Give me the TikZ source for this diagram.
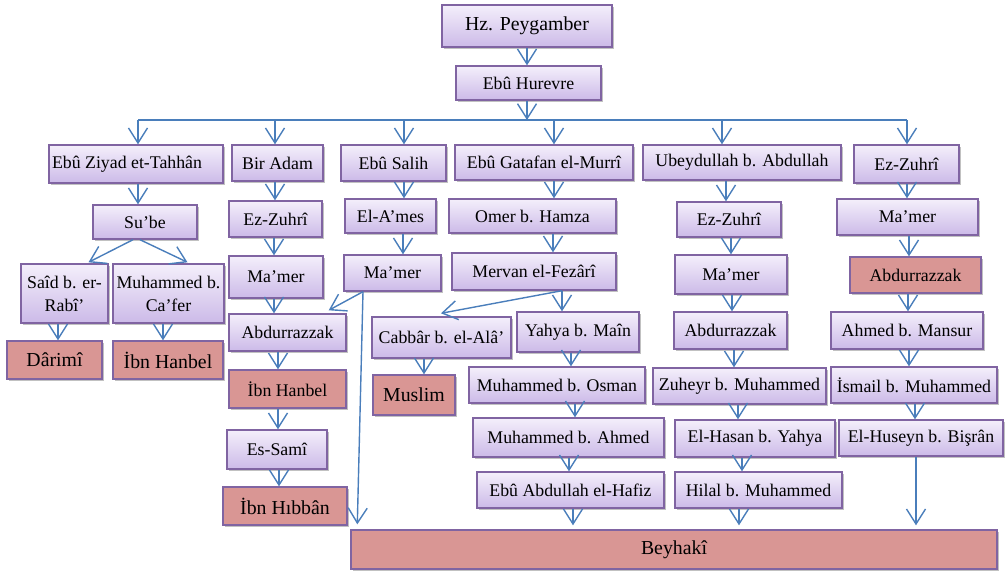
\documentclass[tikz,border=0pt]{standalone}
\usepackage{fontspec}
\setmainfont{Liberation Serif}
\usetikzlibrary{arrows.meta,shadows,calc}
\definecolor{lavTop}{RGB}{244,239,251}
\definecolor{lavBot}{RGB}{204,186,232}
\definecolor{bord}{RGB}{128,100,162}
\definecolor{redf}{RGB}{217,150,148}
\definecolor{arrb}{RGB}{74,126,187}
\tikzset{
  bbox/.style={draw=bord, line width=1.4pt, inner sep=0pt, align=center,
    drop shadow={shadow xshift=1.6pt, shadow yshift=-2.2pt, opacity=0.35, fill=black!70},
    font=\fontsize{17.8}{23}\selectfont},
  lav/.style={bbox, top color=lavTop, bottom color=lavBot},
  rbox/.style={bbox, fill=redf},
  bigf/.style={font=\fontsize{19.8}{23}\selectfont},
  arr/.style={draw=arrb, line width=1.4pt, -{Straight Barb[length=15pt,width=19pt,line width=1.4pt]}},
  ln/.style={draw=arrb, line width=1.4pt}
}
\newcommand\bx[7][lav]{\node[#1,minimum width={(#5-#3)*1pt},minimum height={(#6-#4)*1pt}] (#2) at ({(#3+#5)/2},{(#4+#6)/2}) {#7};}
\newcommand\va[3]{\draw[arr] (#1.south -| #3,0) -- (#2.north -| #3,0);}
\begin{document}
\begin{tikzpicture}[x=1pt,y=-1pt]
\useasboundingbox (0,0) rectangle (1005,574);
% boxes
\bx[lav,bigf]{hz}{442}{5}{612}{47}{Hz. Peygamber}
\bx{hur}{456}{66}{601}{100}{Ebû Hurevre}
\bx{ziyad}{49}{145}{223}{183}{\hspace*{-18pt}Ebû Ziyad et-Tahhân}
\bx{adam}{232}{145}{323}{181}{Bir Adam}
\bx{salih}{341}{145}{446}{181}{Ebû Salih}
\bx{gatafan}{455}{145}{633}{180}{Ebû Gatafan el-Murrî}
\bx{ubeyd}{643}{145}{841}{180}{Ubeydullah b. Abdullah}
\bx{zuhriR}{854}{145}{959}{183}{Ez-Zuhrî}
\bx{sube}{93}{205}{197}{239}{Su’be}
\bx{zuhriA}{229}{201}{322}{237}{Ez-Zuhrî}
\bx{ames}{345}{199}{436}{233}{El-A’mes}
\bx{omer}{449}{199}{616}{233}{Omer b. Hamza}
\bx{zuhriU}{677}{202}{781}{237}{Ez-Zuhrî}
\bx{mamerR}{837}{199}{978}{235}{Ma’mer}
\bx{said}{21}{264}{108}{323}{Saîd b. er-\\Rabî’}
\bx{mcafer}{113}{264}{224}{323}{Muhammed b.\\Ca’fer}
\bx{mamerA}{229}{256}{323}{298}{Ma’mer}
\bx{mamerS}{344}{255}{441}{291}{Ma’mer}
\bx{mervan}{452}{253}{616}{290}{Mervan el-Fezârî}
\bx{mamerU}{675}{255}{787}{294}{Ma’mer}
\bx[rbox]{abdR}{850}{257}{981}{293}{Abdurrazzak}
\bx[rbox,bigf]{darimi}{7}{341}{102}{379}{Dârimî}
\bx[rbox,bigf]{hanbelA}{113}{341}{223}{379}{İbn Hanbel}
\bx{abdA}{229}{314}{346}{351}{Abdurrazzak}
\bx{cabbar}{372}{317}{511}{358}{Cabbâr b. el-Alâ’}
\bx{yahya}{517}{312}{639}{352}{Yahya b. Maîn}
\bx{abdU}{674}{312}{787}{349}{Abdurrazzak}
\bx{ahmed}{831}{312}{983}{349}{Ahmed b. Mansur}
\bx[rbox]{hanbelB}{229}{370}{346}{408}{İbn Hanbel}
\bx[rbox,bigf]{muslim}{373}{375}{455}{415}{Muslim}
\bx{osman}{469}{367}{645}{403}{Muhammed b. Osman}
\bx{zuheyr}{653}{368}{826}{404}{Zuheyr b. Muhammed}
\bx{ismail}{831}{367}{997}{403}{İsmail b. Muhammed}
\bx{sami}{227}{430}{327}{469}{Es-Samî}
\bx{mahmed}{473}{418}{664}{457}{Muhammed b. Ahmed}
\bx{hasan}{675}{420}{835}{457}{El-Hasan b. Yahya}
\bx{huseyn}{839}{420}{1003}{456}{El-Huseyn b. Bişrân}
\bx[rbox,bigf]{hibban}{223}{487}{347}{525}{İbn Hıbbân}
\bx{hafiz}{477}{472}{664}{508}{Ebû Abdullah el-Hafiz}
\bx{hilal}{675}{472}{842}{508}{Hilal b. Muhammed}
\bx[rbox,bigf]{beyhaki}{351}{530}{997}{569}{Beyhakî}
% bus
\coordinate (busL) at (138,120);
\coordinate (busR) at (907,120);
\draw[arr] (hz.south -| 527,0) -- (hur.north -| 527,0);
\draw[arr] (hur.south -| 527,0) -- (527,120);
\draw[ln] (busL) -- (busR);
\draw[arr] (busL) -- (ziyad.north -| busL);
\draw[arr] (275,120) -- (adam.north -| 275,0);
\draw[arr] (404,120) -- (salih.north -| 404,0);
\draw[arr] (554,120) -- (gatafan.north -| 554,0);
\draw[arr] (722,120) -- (ubeyd.north -| 722,0);
\draw[arr] (busR) -- (zuhriR.north -| busR);
% column 1
\va{ziyad}{sube}{138}
\draw[arr] (sube.south -| 133,0) -- ($(said.north)+(24,-1)$);
\draw[arr] (sube.south -| 140,0) -- ($(mcafer.north)+(19,-1)$);
\va{said}{darimi}{58}
\va{mcafer}{hanbelA}{163}
% column 2
\va{adam}{zuhriA}{275}
\va{zuhriA}{mamerA}{274}
\va{mamerA}{abdA}{274}
\va{abdA}{hanbelB}{278}
\va{hanbelB}{sami}{278}
\va{sami}{hibban}{279}
% column 3
\va{salih}{ames}{404}
\va{ames}{mamerS}{403}
\draw[arr] (mamerS.south -| 363,0) -- ($(abdA.north east)+(-18,-3)$);
\draw[arr] (mamerS.south -| 363,0) -- ($(beyhaki.north west)+(7,-5)$);
% column 4
\va{gatafan}{omer}{554}
\va{omer}{mervan}{553}
\draw[arr] (mervan.south -| 562,0) -- ($(cabbar.north)+(-0.5,-3)$);
\draw[arr] (mervan.south -| 562,0) -- (yahya.north -| 562,0);
\va{cabbar}{muslim}{424}
\va{yahya}{osman}{571}
\va{osman}{mahmed}{575}
\va{mahmed}{hafiz}{569}
\draw[arr] (hafiz.south -| 573,0) -- ($(beyhaki.north -| 573,0)+(0,-4)$);
% column 5
\va{ubeyd}{zuhriU}{726}
\va{zuhriU}{mamerU}{731}
\va{mamerU}{abdU}{732}
\va{abdU}{zuheyr}{734}
\va{zuheyr}{hasan}{738}
\va{hasan}{hilal}{742}
\draw[arr] (hilal.south -| 739,0) -- ($(beyhaki.north -| 739,0)+(0,-4)$);
% column 6
\va{zuhriR}{mamerR}{907}
\va{mamerR}{abdR}{909}
\va{abdR}{ahmed}{908}
\va{ahmed}{ismail}{909}
\va{ismail}{huseyn}{915}
\draw[arr] (huseyn.south -| 916,0) -- ($(beyhaki.north -| 916,0)+(0,-4)$);
\end{tikzpicture}
\end{document}
